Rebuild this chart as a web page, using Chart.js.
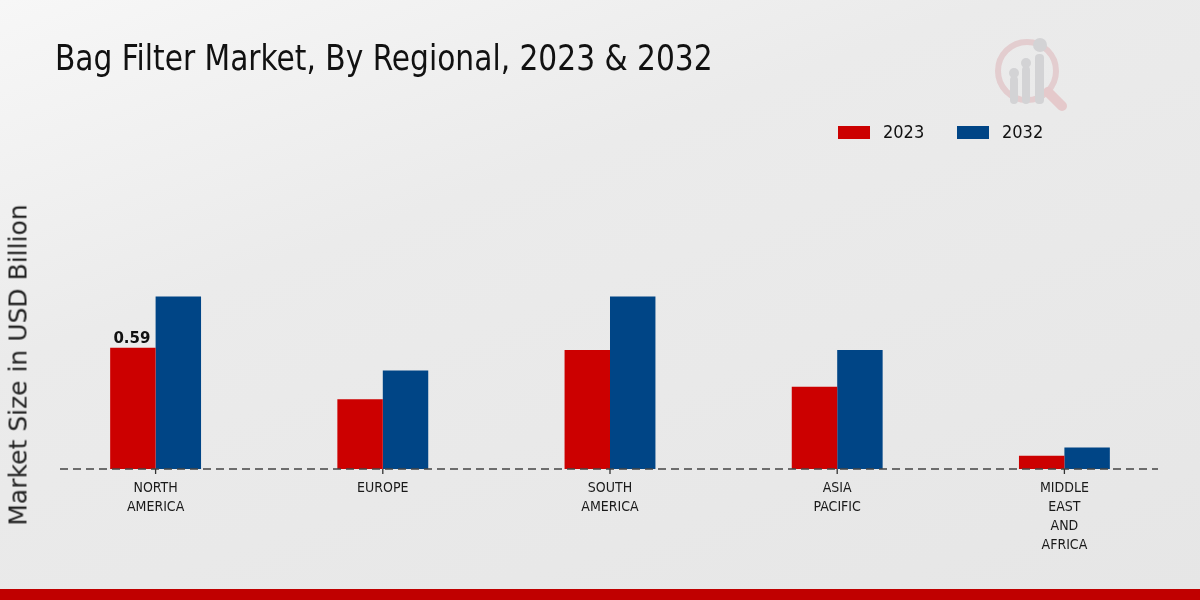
<!DOCTYPE html>
<html>
<head>
<meta charset="utf-8">
<script src="https://cdn.jsdelivr.net/npm/chart.js@4"></script>
<style>
    html, body { margin: 0; padding: 0; }
    body {
        width: 1200px; height: 600px; position: relative; overflow: hidden;
        background: linear-gradient(160deg, #f7f7f7 0%, #ebebeb 35%, #e6e6e6 100%);
        font-family: "DejaVu Sans Condensed", "DejaVu Sans", sans-serif;
    }
    #title {
        position: absolute; left: 55px; top: 37px;
        font-size: 33px; color: #111; white-space: nowrap;
        transform: scaleY(1.08); transform-origin: left top;
    }
    #ylabel {
        position: absolute; left: 18px; top: 365px;
        transform: translate(-50%, -50%) rotate(-90deg);
        font-family: "DejaVu Sans", sans-serif;
        font-size: 25px; color: #222; white-space: nowrap;
    }
    .leg { position: absolute; top: 121px; font-size: 18px; color: #111; }
    .sw { position: absolute; width: 32px; height: 13px; top: 126px; }
    #bottomBand { position: absolute; left: 0; top: 589px; width: 1200px; height: 11px; background: #c00000; }
    #logo { position: absolute; left: 990px; top: 30px; }
    #wrap { position: absolute; left: 0; top: 0; width: 1200px; height: 600px; }
</style>
</head>
<body>
<div id="wrap"><canvas id="bagFilterChart"></canvas></div>
<div id="title">Bag Filter Market, By Regional, 2023 &amp; 2032</div>
<div id="ylabel">Market Size in USD Billion</div>
<div class="sw" style="left:838px;background:#cc0000"></div>
<div class="leg" style="left:883px">2023</div>
<div class="sw" style="left:957px;background:#004586"></div>
<div class="leg" style="left:1002px">2032</div>
<svg id="logo" width="90" height="90" viewBox="0 0 90 90">
    <circle cx="37" cy="41" r="29" fill="none" stroke="#e3cdcf" stroke-width="6"/>
    <line x1="58" y1="62" x2="72" y2="76" stroke="#e5c9cb" stroke-width="10" stroke-linecap="round"/>
    <rect x="20" y="46" width="8" height="28" rx="4" fill="#d3d3d5"/>
    <rect x="32" y="36" width="8" height="38" rx="4" fill="#d3d3d5"/>
    <rect x="45" y="24" width="9" height="50" rx="4" fill="#d3d3d5"/>
    <circle cx="24" cy="43" r="5" fill="#d3d3d5"/>
    <circle cx="36" cy="33" r="5" fill="#d3d3d5"/>
    <circle cx="50" cy="15" r="7" fill="#d3d3d5"/>
</svg>
<div id="bottomBand"></div>
<script>
const regions = [["NORTH", "AMERICA"], "EUROPE", ["SOUTH", "AMERICA"], ["ASIA", "PACIFIC"], ["MIDDLE", "EAST", "AND", "AFRICA"]];
const values2023 = [0.59, 0.34, 0.58, 0.40, 0.065];
const values2032 = [0.84, 0.48, 0.84, 0.58, 0.105];
const seriesNames = ["2023", "2032"];

const baselinePlugin = {
    id: "baseline",
    afterDatasetsDraw(chart) {
        const { ctx, scales } = chart;
        const y = scales.y.getPixelForValue(0);
        ctx.save();
        ctx.strokeStyle = "#444";
        ctx.lineWidth = 1.3;
        ctx.setLineDash([8, 5]);
        ctx.beginPath();
        ctx.moveTo(60, y);
        ctx.lineTo(1158, y);
        ctx.stroke();
        ctx.setLineDash([]);
        ctx.strokeStyle = "#333";
        regions.forEach((r, i) => {
            const x = scales.x.getPixelForValue(i);
            ctx.beginPath();
            ctx.moveTo(x, y);
            ctx.lineTo(x, y + 5);
            ctx.stroke();
        });
        // value label on first bar
        const bar = chart.getDatasetMeta(0).data[0];
        ctx.fillStyle = "#111";
        ctx.font = "bold 15px 'DejaVu Sans', sans-serif";
        ctx.textAlign = "center";
        ctx.textBaseline = "bottom";
        ctx.fillText(values2023[0].toFixed(2), bar.x - 1, bar.y - 1);
        ctx.restore();
    }
};

document.addEventListener("DOMContentLoaded", () => {
    const ctx = document.getElementById("bagFilterChart").getContext("2d");
    new Chart(ctx, {
        type: "bar",
        data: {
            labels: regions,
            datasets: [{
                label: seriesNames[0],
                data: values2023,
                backgroundColor: "#cc0000",
                borderWidth: 0
            }, {
                label: seriesNames[1],
                data: values2032,
                backgroundColor: "#004586",
                borderWidth: 0
            }]
        },
        options: {
            responsive: true,
            maintainAspectRatio: false,
            animation: false,
            layout: { padding: { left: 42, right: 22, top: 161, bottom: 0 } },
            plugins: {
                legend: { display: false },
                tooltip: { enabled: false }
            },
            datasets: { bar: { categoryPercentage: 0.4, barPercentage: 1.0 } },
            scales: {
                x: {
                    grid: { display: false, drawTicks: false },
                    border: { display: false },
                    afterFit: (scale) => { scale.height = 131; },
                    ticks: {
                        color: "#1a1a1a",
                        padding: 10,
                        maxRotation: 0,
                        autoSkip: false,
                        font: { family: "'DejaVu Sans Condensed', 'DejaVu Sans'", size: 14, lineHeight: 1.36 }
                    }
                },
                y: {
                    display: false,
                    min: 0,
                    max: 1.5
                }
            }
        },
        plugins: [baselinePlugin]
    });
});
</script>
</body>
</html>
